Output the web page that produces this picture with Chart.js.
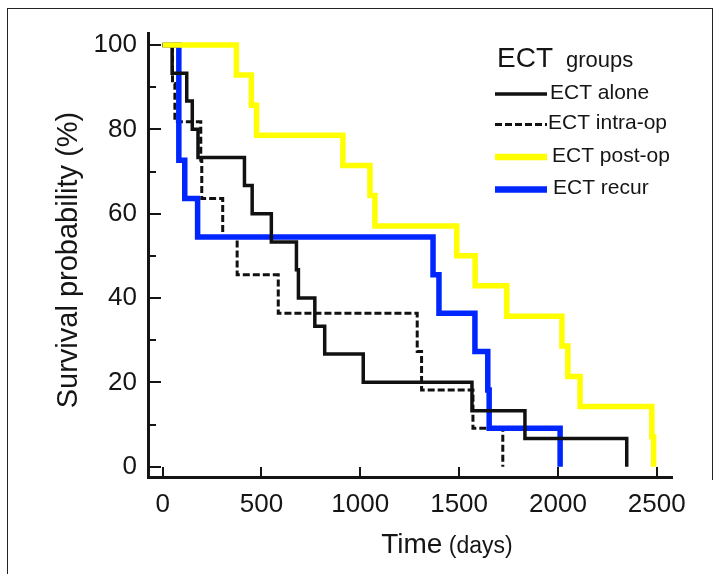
<!DOCTYPE html>
<html>
<head>
<meta charset="utf-8">
<script src="https://cdn.jsdelivr.net/npm/chart.js@4"></script>
<style>
  html, body { margin: 0; padding: 0; background: #fff; }
  #wrap { position: relative; width: 721px; height: 574px; overflow: hidden; }
  #frame { position: absolute; left: 7px; top: 8px; width: 705px; height: 600px;
           border-left: 1.5px solid #222; border-top: 1.5px solid #222; }
  #rframe { position: absolute; left: 712px; top: 8px; width: 0; height: 472px;
            border-left: 1.5px solid #222; }
  canvas { position: absolute; left: 0; top: 0; }
</style>
</head>
<body>
<div id="wrap">
  <div id="frame"></div>
  <div id="rframe"></div>
  <canvas id="km" width="721" height="574"></canvas>
</div>
<script>
// Kaplan-Meier survival (days, % surviving)
const groups = ['ECT alone', 'ECT intra-op', 'ECT post-op', 'ECT recur'];

const aloneDays = [0, 48, 122, 150, 179, 414, 453, 550, 677, 687, 770, 820, 1015, 1565, 1833, 2348];
const aloneSurv = [100, 93.3, 86.7, 80, 73.3, 66.7, 60, 53.3, 46.7, 40, 33.3, 26.7, 20, 13.3, 6.7, 0];

const intraDays = [0, 50, 62, 193, 198, 304, 377, 585, 1288, 1310, 1570, 1721];
const intraSurv = [100, 90.9, 81.8, 72.7, 63.6, 54.5, 45.5, 36.4, 27.3, 18.2, 9.1, 0];

const postDays = [0, 373, 449, 475, 912, 1049, 1074, 1488, 1581, 1741, 2020, 2050, 2112, 2475, 2484];
const postSurv = [100, 92.9, 85.7, 78.6, 71.4, 64.3, 57.1, 50, 42.9, 35.7, 28.6, 21.4, 14.3, 7.1, 0];

const recurDays = [0, 82, 112, 177, 1368, 1398, 1580, 1645, 1652, 2011];
const recurSurv = [100, 72.7, 63.6, 54.5, 45.5, 36.4, 27.3, 18.2, 9.1, 0];

const xTicks = [0, 500, 1000, 1500, 2000, 2500];
const yTicks = [0, 20, 40, 60, 80, 100];
const yMinorTicks = [10, 30, 50, 70, 90];

const FONT = '"Liberation Sans", Arial, Helvetica, sans-serif';
const INK = '#151515';

function curve(label, days, surv, color, width, dash, order) {
  return {
    label,
    data: days.map((d, i) => ({ x: d, y: surv[i] })),
    borderColor: color,
    borderWidth: width,
    borderDash: dash,
    borderCapStyle: 'butt',
    borderJoinStyle: 'miter',
    stepped: true,
    pointRadius: 0,
    fill: false,
    order
  };
}

const datasets = [
  curve(groups[0], aloneDays, aloneSurv, '#111111', 3.5, [], 1),
  curve(groups[1], intraDays, intraSurv, '#111111', 3, [7, 3], 3),
  curve(groups[2], postDays, postSurv, '#ffff00', 5.5, [], 0),
  curve(groups[3], recurDays, recurSurv, '#0026ff', 5.5, [], 2)
];

// inward tick marks, axis titles and the legend box
const decor = {
  id: 'decor',
  afterDatasetsDraw(chart) {
    const { ctx, chartArea: a, scales: { x, y } } = chart;
    ctx.save();
    ctx.strokeStyle = INK;
    ctx.lineWidth = 2;
    ctx.beginPath();
    yTicks.concat(yMinorTicks).forEach(v => {
      const py = Math.round(y.getPixelForValue(v));
      const len = yTicks.includes(v) ? 13 : 8;
      ctx.moveTo(a.left, py);
      ctx.lineTo(a.left + len, py);
    });
    xTicks.forEach(v => {
      const px = Math.round(x.getPixelForValue(v));
      ctx.moveTo(px, a.bottom);
      ctx.lineTo(px, a.bottom - 10);
    });
    ctx.stroke();
    ctx.restore();
  },
  afterDraw(chart) {
    const { ctx } = chart;
    ctx.save();
    ctx.fillStyle = INK;

    // y title
    ctx.save();
    ctx.translate(77, 260);
    ctx.rotate(-Math.PI / 2);
    ctx.font = '29px ' + FONT;
    ctx.textAlign = 'center';
    ctx.textBaseline = 'alphabetic';
    ctx.fillText('Survival probability (%)', 0, 0);
    ctx.restore();

    // x title: "Time" + smaller "(days)"
    ctx.textBaseline = 'alphabetic';
    ctx.textAlign = 'left';
    const t1 = 'Time';
    ctx.font = '28px ' + FONT;
    const w1 = ctx.measureText(t1).width;
    const t2 = ' (days)';
    ctx.font = '23px ' + FONT;
    const w2 = ctx.measureText(t2).width;
    const sx = 447 - (w1 + w2) / 2;
    ctx.font = '28px ' + FONT;
    ctx.fillText(t1, sx, 553);
    ctx.font = '23px ' + FONT;
    ctx.fillText(t2, sx + w1, 553);

    // legend
    ctx.font = '28px ' + FONT;
    ctx.fillText('ECT', 497, 67);
    ctx.font = '22px ' + FONT;
    ctx.fillText('groups', 566, 67);

    const rowY = [94, 124.5, 157, 189.5];
    const textX = [550, 548, 552, 553];
    chart.data.datasets.forEach((ds, i) => {
      ctx.save();
      ctx.strokeStyle = ds.borderColor;
      ctx.lineWidth = ds.borderWidth + (i >= 2 ? 1 : 0);
      ctx.setLineDash(ds.borderDash || []);
      ctx.beginPath();
      ctx.moveTo(495, rowY[i]);
      ctx.lineTo(547, rowY[i]);
      ctx.stroke();
      ctx.restore();
      ctx.font = '21px ' + FONT;
      ctx.textBaseline = 'middle';
      ctx.fillText(ds.label, textX[i], rowY[i] - 1);
    });
    ctx.restore();
  }
};

new Chart(document.getElementById('km'), {
  type: 'line',
  data: { datasets },
  options: {
    responsive: false,
    animation: false,
    layout: { padding: { left: 0, top: 33, right: 49, bottom: 0 } },
    plugins: { legend: { display: false }, tooltip: { enabled: false } },
    scales: {
      x: {
        type: 'linear',
        min: -74,
        max: 2577,
        grid: { display: false, drawTicks: false },
        border: { color: INK, width: 3 },
        afterBuildTicks: s => { s.ticks = xTicks.map(v => ({ value: v })); },
        afterFit: s => { s.height = 97; },
        ticks: {
          color: INK,
          padding: 12,
          maxRotation: 0,
          font: { family: FONT, size: 26 },
          callback: v => String(v)
        }
      },
      y: {
        type: 'linear',
        min: -2.44,
        max: 102.85,
        grid: { display: false, drawTicks: false },
        border: { color: INK, width: 3 },
        afterBuildTicks: s => { s.ticks = yTicks.map(v => ({ value: v })); },
        afterFit: s => { s.width = 148; },
        ticks: {
          color: INK,
          padding: 11,
          font: { family: FONT, size: 26 },
          callback: v => String(v)
        }
      }
    }
  },
  plugins: [decor]
});
</script>
</body>
</html>
